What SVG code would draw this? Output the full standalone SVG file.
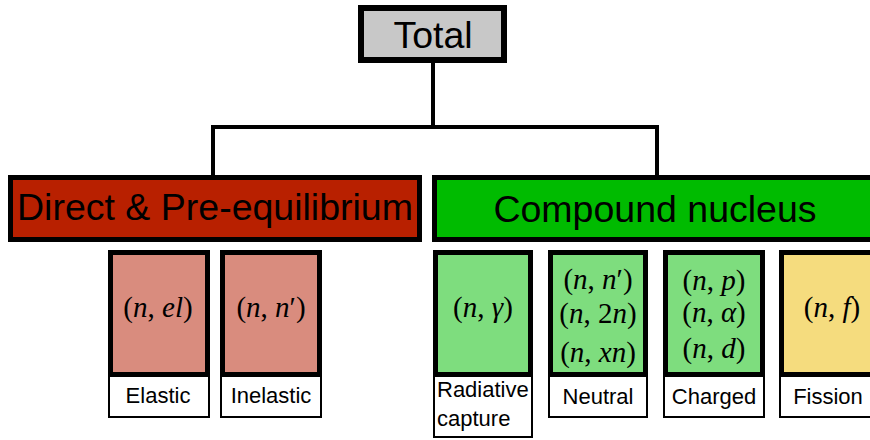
<svg xmlns="http://www.w3.org/2000/svg" width="870" height="440" viewBox="0 0 870 440">
<style>
.big{font-family:"Liberation Sans",Arial,sans-serif;font-size:37.5px;text-anchor:middle;fill:#000}
.lab{font-family:"Liberation Sans",Arial,sans-serif;font-size:22px;text-anchor:middle;fill:#000}
.math{font-family:"Liberation Serif","Times New Roman",serif;font-size:29px;text-anchor:middle;fill:#000}
.it{font-style:italic}
.cbox{stroke:#000;stroke-width:5}
.lbox{fill:#fff;stroke:#000;stroke-width:2}
.conn{stroke:#000;stroke-width:4;fill:none}
</style>
<rect width="870" height="440" fill="#fff"/>
<g id="connectors">
<path class="conn" d="M433,62 V127 M211,127 H659 M213,127 V176 M657,127 V176"/>
</g>
<g id="total">
<rect x="361" y="8" width="143" height="52" fill="#c8c8c8" stroke="#000" stroke-width="6"/>
<text class="big" x="433" y="48">Total</text>
</g>
<g id="direct">
<rect x="10.5" y="177.5" width="409" height="62" fill="#b82000" stroke="#000" stroke-width="5"/>
<text class="big" x="215" y="220">Direct &amp; Pre-equilibrium</text>
</g>
<g id="compound">
<rect x="434.5" y="177.5" width="445" height="62" fill="#00bb00" stroke="#000" stroke-width="5"/>
<text class="big" x="655" y="222">Compound nucleus</text>
</g>
<g id="elastic">
<rect class="cbox" x="110.5" y="252.5" width="97" height="122" fill="#d98c7e"/>
<text class="math" x="158" y="317">(<tspan class="it">n</tspan>, <tspan class="it">el</tspan>)</text>
<rect class="lbox" x="109" y="376" width="100" height="41"/>
<text class="lab" x="158" y="403">Elastic</text>
</g>
<g id="inelastic">
<rect class="cbox" x="222.5" y="252.5" width="97" height="122" fill="#d98c7e"/>
<text class="math" x="271" y="317">(<tspan class="it">n</tspan>, <tspan class="it">n</tspan>′)</text>
<rect class="lbox" x="221" y="376" width="100" height="41"/>
<text class="lab" x="271" y="403">Inelastic</text>
</g>
<g id="radiative">
<rect class="cbox" x="435.5" y="252.5" width="95" height="122" fill="#7edd7e"/>
<text class="math" x="483" y="317">(<tspan class="it">n</tspan>, <tspan class="it">γ</tspan>)</text>
<rect class="lbox" x="434" y="376" width="98" height="61"/>
<text class="lab" x="437" y="397" style="text-anchor:start">Radiative</text>
<text class="lab" x="437" y="426" style="text-anchor:start">capture</text>
</g>
<g id="neutral">
<rect class="cbox" x="550.5" y="252.5" width="95" height="122" fill="#7edd7e"/>
<text class="math" x="598" y="289">(<tspan class="it">n</tspan>, <tspan class="it">n</tspan>′)</text>
<text class="math" x="598" y="323">(<tspan class="it">n</tspan>, 2<tspan class="it">n</tspan>)</text>
<text class="math" x="598" y="362">(<tspan class="it">n</tspan>, <tspan class="it">xn</tspan>)</text>
<rect class="lbox" x="549" y="376" width="98" height="41"/>
<text class="lab" x="598" y="404">Neutral</text>
</g>
<g id="charged">
<rect class="cbox" x="665.5" y="252.5" width="97" height="122" fill="#7edd7e"/>
<text class="math" x="714" y="290">(<tspan class="it">n</tspan>, <tspan class="it">p</tspan>)</text>
<text class="math" x="714" y="322">(<tspan class="it">n</tspan>, <tspan class="it">α</tspan>)</text>
<text class="math" x="714" y="358">(<tspan class="it">n</tspan>, <tspan class="it">d</tspan>)</text>
<rect class="lbox" x="664" y="376" width="100" height="41"/>
<text class="lab" x="714" y="404">Charged</text>
</g>
<g id="fission">
<rect class="cbox" x="781.5" y="252.5" width="100" height="122" fill="#f5dc7e"/>
<text class="math" x="832" y="317">(<tspan class="it">n</tspan>, <tspan class="it">f</tspan>)</text>
<rect class="lbox" x="780" y="376" width="100" height="41"/>
<text class="lab" x="828" y="404">Fission</text>
</g>
</svg>
